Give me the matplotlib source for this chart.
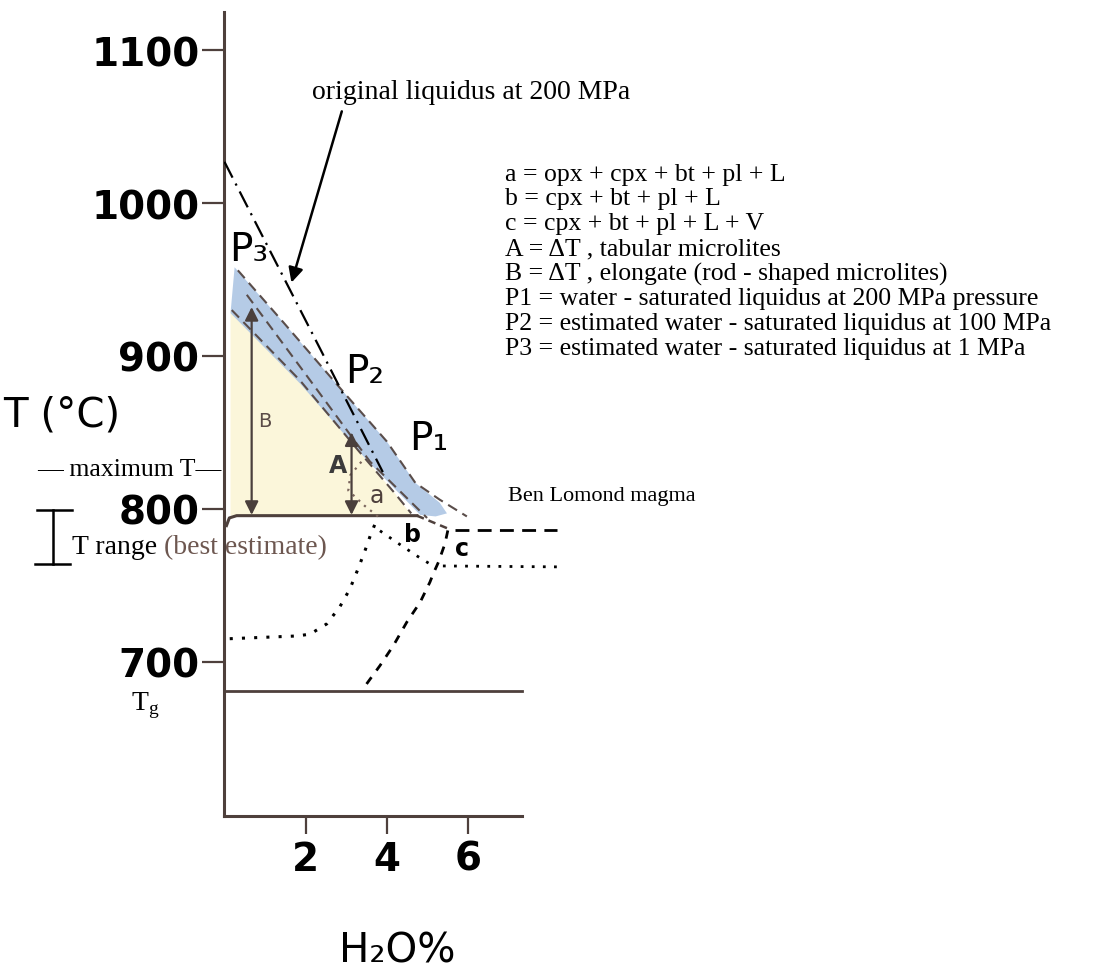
import numpy as np
import matplotlib
matplotlib.use("Agg")
import matplotlib.pyplot as plt
from matplotlib.patches import Polygon

# axis ticks
X_TICKS = [2, 4, 6]
Y_TICKS = [700, 800, 900, 1000, 1100]

# original liquidus at 200 MPa (dash-dot)
liq_orig_x = [0.0, 2.35, 3.9]
liq_orig_T = [1027, 905, 824]

# liquidus band edges (blue shading)
band_upper_x = [0.25, 1.45, 3.01, 4.0, 4.7, 5.3, 5.48]
band_upper_T = [958, 922, 874, 844, 817, 804, 797]
band_lower_x = [0.15, 1.86, 3.5, 4.82, 5.2]
band_lower_T = [928, 882, 832, 796, 795]

# dashed liquidus curves P3 / P2 / P1
p_upper_x = [0.33, 1.45, 3.01, 4.0, 4.7, 5.3, 5.97]
p_upper_T = [956, 922, 874, 844, 817, 806, 795]
p_mid_x = [0.55, 2.0, 3.58, 4.99]
p_mid_T = [940, 888, 831, 794]
p_lower_x = [0.18, 1.86, 3.3, 4.2, 4.6]
p_lower_T = [930, 884, 838, 810, 797]

# undercooling region (yellow)
yellow_x = [0.15, 0.15, 0.18, 1.86, 3.3, 4.2, 4.6]
yellow_T = [795.5, 930, 930, 884, 838, 810, 796]

# solid magma temperature line with rounded corner
magma_x = [0.05, 0.12, 0.3, 4.74]
magma_T = [789, 794, 795.5, 795.5]
magma_dash_x = [4.74, 5.51]
magma_dash_T = [795.5, 787]
vapour_x = [5.68, 8.2]
vapour_T = [786, 786]

# glass transition
tg_x = [0.0, 7.33]
tg_T = [681, 681]

# left dotted boundary (a / b field)
dot_left_x = [0.13, 1.79, 2.11, 2.52, 2.84, 3.09, 3.29, 3.46, 3.59, 3.71, 3.78]
dot_left_T = [715, 716.8, 718, 724.7, 735.8, 747.6, 760.7, 772.5, 782.3, 790.2, 792.2]
dot_a_x = [3.78, 3.45, 3.05, 3.1, 3.38]
dot_a_T = [795, 802, 812, 822, 831]

# b / c boundary (dotted)
dot_bc_x = [3.83, 4.3, 4.75, 5.14]
dot_bc_T = [785.6, 777, 769, 762.6]
dot_c_x = [5.38, 8.21]
dot_c_T = [762.6, 762]

# c lower boundary (dashed)
dash_c_x = [3.50, 3.83, 4.16, 4.49, 4.82, 5.06, 5.14, 5.27, 5.43, 5.51]
dash_c_T = [685.4, 697.4, 710.5, 725.8, 738.9, 752, 757.4, 765.1, 777.1, 786.9]

legend_lines = [
    "a = opx + cpx + bt + pl + L",
    "b = cpx + bt + pl + L",
    "c = cpx + bt + pl + L + V",
    "A = \u0394T , tabular microlites",
    "B = \u0394T , elongate (rod - shaped microlites)",
    "P1 = water - saturated liquidus at 200 MPa pressure",
    "P2 = estimated water - saturated liquidus at 100 MPa",
    "P3 = estimated water - saturated liquidus at 1 MPa",
]

AXIS_COLOR = "#4e403c"
BAND_LINE = "#5a4d4a"
SERIF = "Liberation Serif"

fig = plt.figure(figsize=(11.2, 9.78), dpi=100)
ax = fig.add_axes([0.2004, 0.1646, 0.3263, 0.8221])
ax.set_xlim(0, 9)
ax.set_ylim(599, 1125)

for side in ["top", "right"]:
    ax.spines[side].set_visible(False)
for side in ["left", "bottom"]:
    ax.spines[side].set_color(AXIS_COLOR)
    ax.spines[side].set_linewidth(2.2)
ax.spines["bottom"].set_bounds(0, 7.33)

ax.set_xticks(X_TICKS)
ax.set_yticks(Y_TICKS)
ax.tick_params(axis="y", length=16, width=1.6, pad=2, labelsize=28, color=AXIS_COLOR)
ax.tick_params(axis="x", length=13, width=1.6, pad=4, labelsize=28, color=AXIS_COLOR)
for lbl in ax.get_xticklabels() + ax.get_yticklabels():
    lbl.set_fontweight("bold")
    lbl.set_fontfamily("DejaVu Sans")

# shaded regions
ax.add_patch(Polygon(np.column_stack([yellow_x, yellow_T]), closed=True,
                     facecolor="#fbf6da", edgecolor="none", zorder=1))
band = np.vstack([np.column_stack([band_upper_x, band_upper_T]),
                  np.column_stack([band_lower_x, band_lower_T])[::-1]])
ax.add_patch(Polygon(band, closed=True, facecolor="#adc6e4", edgecolor="none",
                     alpha=0.9, zorder=2))

# liquidus curves
for xs, ts in [(p_upper_x, p_upper_T), (p_mid_x, p_mid_T), (p_lower_x, p_lower_T)]:
    ax.plot(xs, ts, color=BAND_LINE, lw=1.5, ls=(0, (5, 3)), zorder=3)
ax.plot(liq_orig_x, liq_orig_T, color="black", lw=1.6, ls=(0, (8, 3, 1, 3)), zorder=4)

# phase boundaries
ax.plot(magma_x, magma_T, color=AXIS_COLOR, lw=2.2, zorder=3)
ax.plot(magma_dash_x, magma_dash_T, color=AXIS_COLOR, lw=1.8, ls=(0, (3, 2)), zorder=3)
ax.plot(vapour_x, vapour_T, color="black", lw=2.0, ls=(0, (5, 3)), clip_on=False)
ax.plot(tg_x, tg_T, color=AXIS_COLOR, lw=2.0)
ax.plot(dot_left_x, dot_left_T, color="black", lw=2.2, ls=(0, (1, 3)))
ax.plot(dot_a_x, dot_a_T, color="#7a655c", lw=1.6, ls=(0, (1, 2.5)), zorder=3)
ax.plot(dot_bc_x, dot_bc_T, color="black", lw=2.0, ls=(0, (1, 3)))
ax.plot(dot_c_x, dot_c_T, color="black", lw=2.0, ls=(0, (1, 3)), clip_on=False)
ax.plot(dash_c_x, dash_c_T, color="black", lw=2.0, ls=(0, (3, 3)))

# undercooling arrows
arrow_kw = dict(arrowstyle="<|-|>", color="#4a3f3c", lw=1.6, mutation_scale=20,
                shrinkA=0, shrinkB=0)
ax.annotate("", xy=(0.67, 932), xytext=(0.67, 796), arrowprops=arrow_kw, zorder=5)
ax.annotate("", xy=(3.13, 850), xytext=(3.13, 796), arrowprops=arrow_kw, zorder=5)

# original liquidus pointer
ax.annotate("", xy=(1.65, 948), xytext=(2.89, 1060),
            arrowprops=dict(arrowstyle="-|>", color="black", lw=1.8,
                            mutation_scale=22, shrinkA=0, shrinkB=0))
ax.text(2.16, 1073, "original liquidus at 200 MPa", family=SERIF, fontsize=20,
        va="center", ha="left")

# legend block
for i, line in enumerate(legend_lines):
    ax.text(6.91, 1019.3 - 16.3 * i, line, family=SERIF, fontsize=18.5,
            va="center", ha="left")

ax.text(6.98, 808.5, "Ben Lomond magma", family=SERIF, fontsize=16,
        va="center", ha="left")

# curve and field labels
ax.text(0.6, 970, "P\u2083", fontsize=28, ha="center", va="center")
ax.text(3.46, 890, "P\u2082", fontsize=28, ha="center", va="center")
ax.text(5.04, 846, "P\u2081", fontsize=28, ha="center", va="center")
ax.text(0.99, 857.6, "B", fontsize=14, color="#5b4c48", ha="center", va="center")
ax.text(2.80, 828.8, "A", fontsize=17, fontweight="bold", color="#3b3b3b",
        ha="center", va="center")
ax.text(3.76, 809.2, "a", fontsize=17, color="#4e403c", ha="center", va="center")
ax.text(4.62, 783.6, "b", fontsize=17, fontweight="bold", ha="center", va="center")
ax.text(5.85, 774.5, "c", fontsize=17, fontweight="bold", ha="center", va="center")

# left side labels
ax.text(-5.45, 862, "T (\u00b0C)", fontsize=29, ha="left", va="center")
ax.text(-0.08, 826, "\u2014 maximum T\u2014", family=SERIF, fontsize=18.5,
        ha="right", va="center")
t_range = ax.text(-3.76, 775, "T range ", family=SERIF, fontsize=20,
                  ha="left", va="center")
ax.annotate("(best estimate)", xy=(1, 0), xycoords=t_range, family=SERIF,
            fontsize=20, color="#6d5750", ha="left", va="bottom")
ax.plot([-4.62, -3.76], [798.9, 798.9], color="black", lw=1.8, clip_on=False)
ax.plot([-4.22, -4.22], [798.9, 764], color="black", lw=1.8, clip_on=False)
ax.plot([-4.66, -3.8], [764, 764], color="black", lw=1.8, clip_on=False)
ax.text(-1.96, 672, r"T$_\mathregular{g}$", family=SERIF, fontsize=20,
        ha="center", va="center")

ax.text(4.25, 511, "H\u2082O%", fontsize=29, ha="center", va="center")

fig.savefig("out.png", dpi=100)
